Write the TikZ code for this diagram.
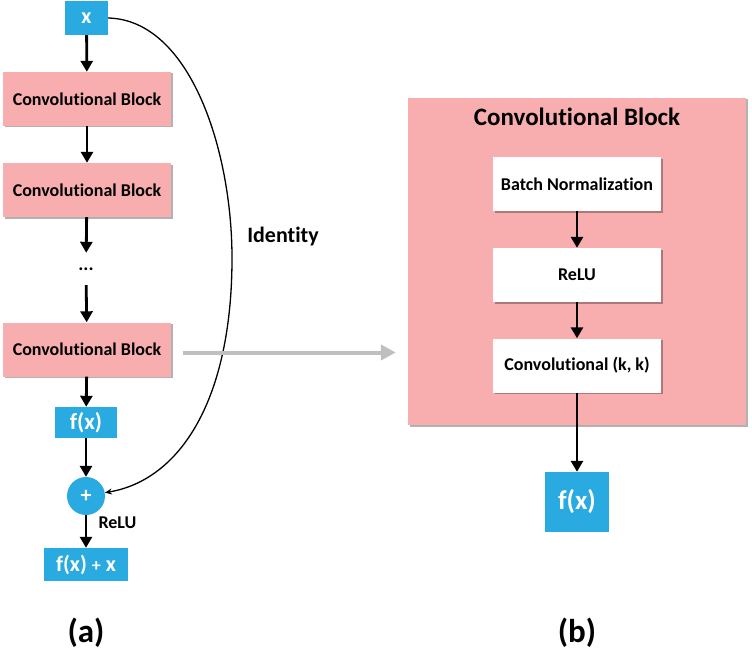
\documentclass[tikz,border=0pt]{standalone}
\usepackage{fontspec}
\setmainfont{Carlito}[Ligatures=NoCommon]
\usetikzlibrary{arrows.meta,shadows}
\definecolor{pinkb}{RGB}{248,173,175}
\definecolor{blueb}{RGB}{41,171,226}
\definecolor{grayarr}{RGB}{191,191,191}
\begin{document}
\begin{tikzpicture}[x=1pt,y=-1pt,
  font=\bfseries\fontsize{18}{21}\selectfont,
  shd/.style={drop shadow={shadow xshift=1.5pt,shadow yshift=-1.5pt,fill=black,opacity=0.3}},
  conv/.style={fill=pinkb,draw=none,inner sep=0pt,minimum width=168pt,minimum height=54pt,shd},
  wbox/.style={fill=white,draw=none,inner sep=0pt,minimum width=168pt,minimum height=54pt,shd},
  bbox/.style={fill=blueb,draw=none,text=white,inner sep=0pt},
  arr/.style={line width=2.8pt,-{Triangle[length=11pt,width=12pt]}},
]
\useasboundingbox (0,0) rectangle (752,650);
% left column
\node[bbox,minimum width=43pt,minimum height=34pt,font=\bfseries\fontsize{22}{24}\selectfont] (x) at (86.5,18) {x};
\node[conv] (cb1) at (87,99) {Convolutional Block};
\node[conv] (cb2) at (87,190) {Convolutional Block};
\node[inner sep=0pt,minimum height=32pt,font=\bfseries\fontsize{19}{21}\selectfont] (dots) at (86,269) {...};
\node[conv] (cb3) at (87,349.5) {Convolutional Block};
\node[bbox,minimum width=62pt,minimum height=31pt,font=\bfseries\fontsize{23}{25}\selectfont] (fx) at (86,422.5) {f(x)};
\node[circle,fill=blueb,text=white,inner sep=0pt,minimum size=38pt,font=\bfseries\fontsize{22}{24}\selectfont] (plus) at (86,496) {+};
\node[bbox,minimum width=84pt,minimum height=33pt,font=\bfseries\fontsize{22}{24}\selectfont] (fxx) at (86,564.5) {f(x) {\fontsize{18}{20}\selectfont+} x};
\node[anchor=west] (relulbl) at (95,523) {ReLU};
\node[font=\bfseries\fontsize{22}{24}\selectfont] (ident) at (283,237) {Identity};
\node[font=\bfseries\fontsize{33}{36}\selectfont] (la) at (86,633) {(a)};

\draw[arr] (x) -- (cb1);
\draw[arr] (cb1) -- (cb2);
\draw[arr] (cb2) -- (dots);
\draw[arr] (dots) -- (cb3);
\draw[arr] (cb3) -- (fx);
\draw[arr] (fx) -- (plus);
\draw[arr] (plus) -- (fxx);
\draw[line width=1.3pt,-{Stealth[length=7pt,width=6pt]}] (x.east) .. controls (190,20) and (232,150) .. (232,258) .. controls (232,400) and (180,480) .. (plus.10);

% right panel
\node[fill=pinkb,draw=none,inner sep=0pt,minimum width=338pt,minimum height=327pt,shd] (big) at (577,261.5) {};
\node[font=\bfseries\fontsize{25}{28}\selectfont] (title) at (577,117) {Convolutional Block};
\node[wbox] (bn) at (577,184) {Batch Normalization};
\node[wbox] (relu) at (577,275) {ReLU};
\node[wbox] (convk) at (577,365.5) {Convolutional (k, k)};
\node[bbox,minimum width=64pt,minimum height=60pt,font=\bfseries\fontsize{27}{30}\selectfont] (fx2) at (577,502) {f(x)};
\node[font=\bfseries\fontsize{33}{36}\selectfont] (lb) at (577,633) {(b)};

\draw[arr] (bn) -- (relu);
\draw[arr] (relu) -- (convk);
\draw[arr] (convk) -- (fx2);

\draw[grayarr,line width=4pt,-{Triangle[length=15pt,width=15pt]},shorten <=12pt,shorten >=12pt] (cb3.east) ++(0,3) coordinate (gs) (gs) -- (gs -| big.west);
\end{tikzpicture}
\end{document}
